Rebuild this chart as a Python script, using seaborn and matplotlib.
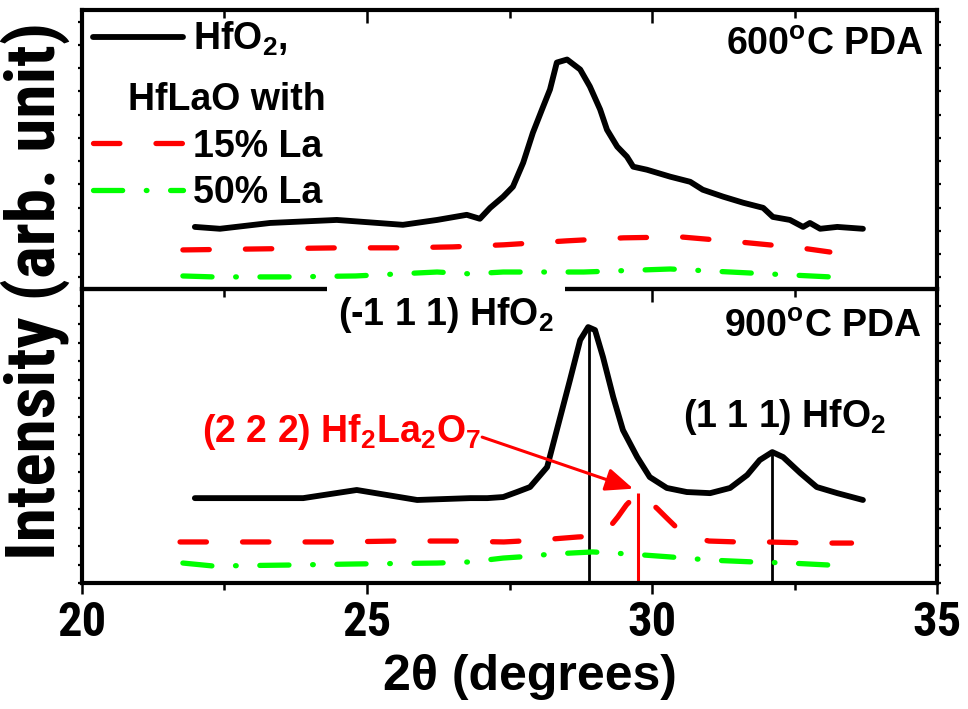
import numpy as np
import pandas as pd
import matplotlib
matplotlib.use("Agg")
import matplotlib.pyplot as plt
from matplotlib import font_manager
from matplotlib.lines import Line2D
import seaborn as sns

# ---------------- data (2theta in degrees, intensity in arb. units) ----------------
# 600 C PDA panel
tt_600_hfo2 = [21.98, 22.42, 23.30, 24.47, 25.63, 26.23, 26.75, 26.98, 27.16, 27.39,
               27.56, 27.74, 27.91, 28.07, 28.21, 28.33, 28.51, 28.74, 28.91, 29.09,
               29.21, 29.39, 29.56, 29.67, 29.91, 30.32, 30.67, 30.89, 31.25, 31.60,
               31.95, 32.12, 32.42, 32.65, 32.77, 32.95, 33.25, 33.70]
int_600_hfo2 = [2.17, 2.09, 2.34, 2.47, 2.26, 2.47, 2.69, 2.52, 2.99, 3.47,
                3.90, 4.93, 6.22, 7.22, 8.08, 9.24, 9.37, 8.94, 8.21, 7.22,
                6.35, 5.62, 5.19, 4.76, 4.63, 4.33, 4.11, 3.77, 3.47, 3.21,
                2.99, 2.60, 2.47, 2.17, 2.34, 2.09, 2.17, 2.09]

tt_600_la15 = [21.77, 23.0, 24.5, 25.5, 26.5, 27.4, 28.5, 29.5, 30.5, 31.5, 32.6, 33.12]
int_600_la15 = [1.18, 1.22, 1.27, 1.27, 1.31, 1.40, 1.57, 1.70, 1.74, 1.53, 1.27, 1.09]

tt_600_la50 = [21.77, 22.30, 23.60, 24.80, 26.23, 26.81, 27.39, 28.80, 30.32, 31.70, 33.12, 33.42]
int_600_la50 = [0.06, 0.02, 0.02, 0.06, 0.23, 0.15, 0.23, 0.23, 0.36, 0.19, 0.02, 0.02]

# 900 C PDA panel
tt_900_hfo2 = [21.98, 23.88, 24.82, 25.88, 26.81, 27.11, 27.39, 27.63, 27.86, 28.16,
               28.33, 28.56, 28.74, 28.88, 29.00, 29.14, 29.32, 29.49, 29.74, 29.96,
               30.26, 30.61, 31.02, 31.37, 31.67, 31.89, 32.11, 32.30, 32.60, 32.89,
               33.25, 33.70]
int_900_hfo2 = [4.59, 4.59, 5.03, 4.49, 4.59, 4.59, 4.65, 4.92, 5.19, 6.27,
                8.27, 10.97, 13.14, 13.84, 13.68, 12.22, 10.05, 8.27, 6.81, 5.73,
                5.14, 4.92, 4.86, 5.14, 5.84, 6.65, 7.08, 6.81, 5.95, 5.19,
                4.86, 4.49]

tt_900_la15 = [21.72, 23.0, 24.5, 25.5, 26.5, 27.4, 28.0, 28.7, 29.0, 29.2, 29.4, 29.55,
               29.75, 29.95, 30.1, 30.26, 30.44, 30.7, 31.0, 31.5, 32.0, 32.8, 33.5]
int_900_la15 = [2.22, 2.22, 2.22, 2.27, 2.27, 2.22, 2.32, 2.49, 2.54, 2.81, 3.57, 4.22,
                4.86, 4.43, 4.00, 3.51, 2.97, 2.49, 2.27, 2.22, 2.22, 2.16, 2.16]

tt_900_la50 = [21.77, 22.30, 23.60, 24.82, 26.23, 26.81, 27.39, 27.68, 28.26, 28.96,
               29.60, 30.32, 31.02, 31.77, 32.42, 33.12, 33.42]
int_900_la50 = [1.08, 0.92, 0.97, 1.03, 1.08, 1.14, 1.35, 1.41, 1.57, 1.68,
                1.57, 1.41, 1.24, 1.14, 1.08, 0.97, 0.86]

# reflections marked in the 900 C panel
hfo2_peaks = [28.9, 32.1]
hf2la2o7_peak = 29.75

x_major = [20, 25, 30, 35]
x_minor = [22.5, 27.5, 32.5]

# ---------------- style ----------------
sns.set_style("ticks", {"axes.edgecolor": "black", "text.color": "black",
                        "axes.labelcolor": "black", "xtick.color": "black",
                        "ytick.color": "black"})
plt.rcParams["font.family"] = ["Liberation Sans", "DejaVu Sans"]
plt.rcParams["font.weight"] = "bold"
plt.rcParams["axes.labelweight"] = "bold"
plt.rcParams["mathtext.default"] = "regular"
plt.rcParams["lines.scale_dashes"] = False

# narrow face for the tick labels and the y title, if one is available
names = {f.name for f in font_manager.fontManager.ttflist}
narrow = None
for cand in ["Liberation Sans Narrow", "Arial Narrow", "Roboto Condensed",
             "Open Sans Condensed"]:
    if cand in names:
        narrow = cand
        break
if narrow is None:
    narrow = "Liberation Sans"
    TICK_FS, YLAB_FS = 30, 41
else:
    TICK_FS, YLAB_FS = 35, 50

RED = "#ff0000"
GREEN = "#00ff00"
DASH_15 = (0, (19, 26))
DASH_50 = (0, (21, 17, 0.5, 17))
LW = 3.8

fig = plt.figure(figsize=(9.68, 7.09), dpi=100)
ax_top = fig.add_axes([0.0847, 0.5924, 0.8833, 0.3935])
ax_bot = fig.add_axes([0.0847, 0.1777, 0.8833, 0.4147])


def draw_series(ax, x, y, color, dash=None, lw=LW):
    df = pd.DataFrame({"two_theta": x, "intensity": y})
    sns.lineplot(data=df, x="two_theta", y="intensity", ax=ax, color=color,
                 linewidth=lw, estimator=None, sort=False)
    line = ax.lines[-1]
    if dash is not None:
        line.set_linestyle(dash)
    line.set_dash_capstyle("round")
    line.set_solid_capstyle("round")
    line.set_solid_joinstyle("round")
    return line


# ---- top: 600 C ----
h_hfo2 = draw_series(ax_top, tt_600_hfo2, int_600_hfo2, "black", lw=4.2)
h_15 = draw_series(ax_top, tt_600_la15, int_600_la15, RED, DASH_15)
h_50 = draw_series(ax_top, tt_600_la50, int_600_la50, GREEN, DASH_50)

# ---- bottom: 900 C ----
draw_series(ax_bot, tt_900_hfo2, int_900_hfo2, "black", lw=4.2)
draw_series(ax_bot, tt_900_la15, int_900_la15, RED, DASH_15)
draw_series(ax_bot, tt_900_la50, int_900_la50, GREEN, DASH_50)

peak_heights = np.interp(hfo2_peaks, tt_900_hfo2, int_900_hfo2)
ax_bot.vlines(hfo2_peaks, 0, peak_heights, color="black", lw=2.0, zorder=1.5)
red_height = float(np.interp(hf2la2o7_peak, tt_900_la15, int_900_la15))
ax_bot.vlines([hf2la2o7_peak], 0, [red_height], color=RED, lw=2.2, zorder=1.5)

# ---- axes cosmetics ----
for ax in (ax_top, ax_bot):
    ax.set_xlim(20, 35)
    ax.set_xticks(x_major)
    ax.set_xticks(x_minor, minor=True)
    ax.set_xlabel("")
    ax.set_ylabel("")
    for s in ax.spines.values():
        s.set_linewidth(3.0)
        s.set_visible(True)
    ax.tick_params(axis="y", which="major", direction="out", length=3, width=1.6,
                   left=True, right=True, labelleft=False, labelright=False)

ax_top.set_ylim(-0.5, 11.5)
ax_top.set_yticks(np.arange(0, 12))
ax_top.spines["bottom"].set_visible(False)
ax_top.tick_params(axis="x", which="both", direction="in", top=True, bottom=False,
                   labelbottom=False, labeltop=False)
ax_top.tick_params(axis="x", which="major", length=9, width=1.8)
ax_top.tick_params(axis="x", which="minor", length=5.5, width=1.8)

ax_bot.set_ylim(0, 15.9)
ax_bot.set_yticks(np.arange(0, 16))
ax_bot.tick_params(axis="x", which="both", direction="out", top=False, bottom=True,
                   labelsize=TICK_FS, labelfontfamily=narrow, pad=4)
ax_bot.tick_params(axis="x", which="major", length=8, width=1.8)
ax_bot.tick_params(axis="x", which="minor", length=5, width=1.8)
sec = ax_bot.secondary_xaxis("top")
sec.set_xticks(x_major)
sec.set_xticks(x_minor, minor=True)
sec.tick_params(axis="x", which="both", direction="in", labeltop=False, width=1.8)
sec.tick_params(axis="x", which="major", length=9)
sec.tick_params(axis="x", which="minor", length=5.5)
sec.spines["top"].set_linewidth(3.0)

ax_bot.set_xlabel("2\u03b8 (degrees)", fontsize=36, fontweight="bold")
ax_bot.xaxis.set_label_coords(0.524, -0.24)
fig.text(0.036, 0.59, "Intensity (arb. unit)", rotation=90, ha="center", va="center",
         fontsize=YLAB_FS, family=narrow, fontweight="bold")

# ---- labels ----
TS = 27
ax_top.text(0.984, 0.839, "600$^{o}$C PDA", transform=ax_top.transAxes, ha="right",
            va="baseline", fontsize=TS)
ax_bot.text(0.982, 0.837, "900$^{o}$C PDA", transform=ax_bot.transAxes, ha="right",
            va="baseline", fontsize=TS)
ax_bot.text(24.49, 13.95, "(-1 1 1) HfO$_2$", ha="left", va="baseline", fontsize=TS,
            zorder=10, clip_on=False,
            bbox=dict(boxstyle="square,pad=0.3", facecolor="white", edgecolor="none"))
ax_bot.text(30.54, 8.43, "(1 1 1) HfO$_2$", ha="left", va="baseline", fontsize=TS)
ax_bot.text(22.11, 7.62, "(2 2 2) Hf$_2$La$_2$O$_7$", ha="left", va="baseline",
            fontsize=TS, color=RED)
ax_bot.annotate("", xy=(29.67, 5.1), xytext=(27.02, 7.89),
                arrowprops=dict(arrowstyle="-|>,head_length=0.6,head_width=0.25",
                                color=RED, lw=2.2, mutation_scale=28,
                                shrinkA=0, shrinkB=0))

# ---- legend: pure HfO2 on top, the La-doped films below the "HfLaO with" line ----
leg1 = ax_top.legend([h_hfo2], ["HfO$_2$,"], loc="upper left",
                     bbox_to_anchor=(0.013, 0.965), borderaxespad=0, borderpad=0,
                     frameon=False, fontsize=TS, handlelength=2.4, handletextpad=0.27)
ax_top.add_artist(leg1)
ax_top.legend([h_15, h_50], ["15% La", "50% La"], loc="upper left",
              bbox_to_anchor=(0.013, 0.575), borderaxespad=0, borderpad=0,
              frameon=False, fontsize=TS, handlelength=2.4, handletextpad=0.27,
              labelspacing=0.28)
ax_top.text(0.054, 0.642, "HfLaO with", transform=ax_top.transAxes, ha="left",
            va="baseline", fontsize=TS)

fig.savefig("out.png", dpi=100)
